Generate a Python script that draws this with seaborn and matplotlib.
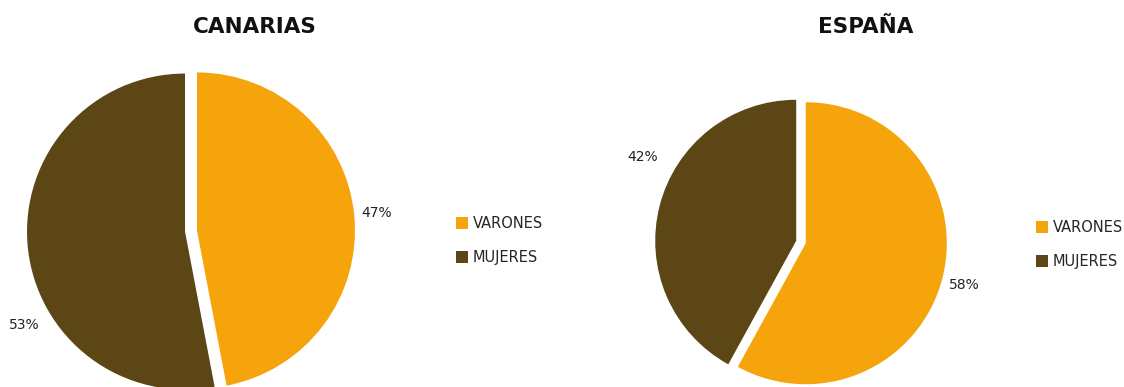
import matplotlib
matplotlib.use("Agg")
import matplotlib.pyplot as plt
import seaborn as sns
import numpy as np

sns.set_theme(style="white")
plt.rcParams['font.family'] = ['DejaVu Sans']

categories = ["VARONES", "MUJERES"]
regions = ["CANARIAS", "ESPAÑA"]
canarias_values = [47, 53]
espana_values = [58, 42]

colors = ["#F5A50B", "#5D4616"]

fig = plt.figure(figsize=(11.24, 3.87), dpi=100)
W, H = 1124, 387

# layout per pie: axes rect (px), centre (px from left, px from top), radius px
layouts = [
    dict(x0=0, cx=191, cy=231, r=158, explode=0.038,
         title_x=255, leg=(456, 240.5), lab=[(5.5, 1.18), (-150.6, 1.21)]),
    dict(x0=562, cx=801, cy=242, r=141, explode=0.035,
         title_x=866, leg=(1036, 244.5), lab=[(-14.7, 1.20), (151.9, 1.277)]),
]

for vals, name, L in zip([canarias_values, espana_values], regions, layouts):
    ax = fig.add_axes([L["x0"] / W, 0, 562 / W, 1])
    ax.patch.set_alpha(0)
    wedges, _ = ax.pie(vals, colors=colors, startangle=90, counterclock=False,
                       explode=[L["explode"]] * len(vals),
                       wedgeprops=dict(linewidth=0))
    rcx = L["cx"] - L["x0"]
    r = L["r"]
    ax.set_xlim(-rcx / r, (562 - rcx) / r)
    ax.set_ylim(-(H - L["cy"]) / r, L["cy"] / r)
    ax.set_aspect("auto")
    for v, (ang, d) in zip(vals, L["lab"]):
        a = np.deg2rad(ang)
        ax.text(d * np.cos(a), d * np.sin(a), f"{v}%", ha="center", va="center",
                fontsize=10, color="#222222")
    ax.text((L["title_x"] - L["x0"]) / 562, 1 - 27 / H, name, transform=ax.transAxes,
            ha="center", va="center", fontsize=15.5, fontweight="bold", color="#111111")
    fig.legend(wedges, categories, loc="center left",
               bbox_to_anchor=(L["leg"][0] / W, 1 - L["leg"][1] / H),
               frameon=False, fontsize=10.5, handlelength=0.85, handleheight=0.85,
               handletextpad=0.3, labelspacing=1.3, borderpad=0, borderaxespad=0)

fig.savefig("out.png", dpi=100)
